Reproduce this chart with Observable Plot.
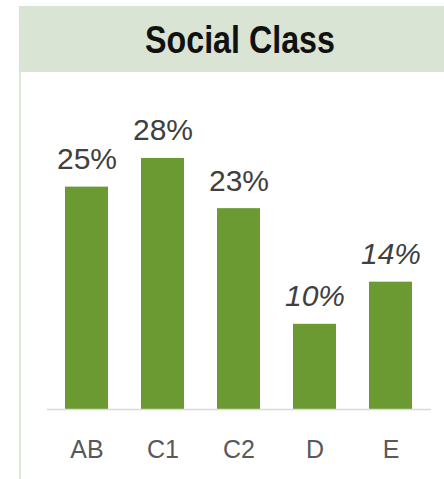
<!DOCTYPE html>
<html><head><meta charset="utf-8">
<script src="https://cdn.jsdelivr.net/npm/d3@7"></script>
<script src="https://cdn.jsdelivr.net/npm/@observablehq/plot@0.6"></script>
<style>
html,body{margin:0;padding:0;background:#fff;}
#wrap{position:relative;width:444px;height:479px;overflow:hidden;background:#fff;}
#chart{position:absolute;left:0;top:0;}
#header{position:absolute;left:19px;top:6px;width:425px;height:66px;background:#d9e4d4;}
#vline{position:absolute;left:19px;top:72px;width:2px;height:407px;background:#dbe8d5;}
#title{position:absolute;left:90px;width:300px;top:20px;line-height:39px;text-align:center;
  font-family:"Liberation Sans",Arial,sans-serif;font-weight:bold;font-size:39px;color:#111;
  transform:scaleX(0.826);transform-origin:150px 50%;}
</style>
</head><body>
<div id="wrap">
  <div id="chart"></div>
  <div id="header"></div>
  <div id="vline"></div>
  <div id="title">Social Class</div>
</div>
<script>
const categories = ["AB", "C1", "C2", "D", "E"];
const values = [24.8, 28, 22.4, 9.5, 14.2];
const labels = ["25%", "28%", "23%", "10%", "14%"];

const data = categories.map((c, i) => ({cat: c, value: values[i], label: labels[i]}));
const font = "'Liberation Sans', Arial, sans-serif";

const chart = Plot.plot({
  width: 444,
  height: 479,
  marginLeft: 47,
  marginRight: 13,
  marginTop: 140,
  marginBottom: 70,
  style: {fontFamily: font, background: "transparent"},
  x: {domain: categories, paddingInner: 0.43, paddingOuter: 0.215, label: null},
  y: {domain: [0, 30], axis: null},
  marks: [
    Plot.barY(data, {x: "cat", y: "value", fill: "#6c9a32"}),
    Plot.ruleY([0], {stroke: "#d9d9d9", strokeWidth: 1.5}),
    Plot.axisX({tickSize: 0, tickPadding: 31, fontSize: 25, color: "#595959", label: null, fontFamily: font}),
    Plot.text(data, {filter: (d, i) => i < 3, x: "cat", y: "value", text: "label", dy: -18, lineAnchor: "bottom",
      fontSize: 30, fill: "#404040", fontFamily: font}),
    Plot.text(data, {filter: (d, i) => i >= 3, x: "cat", y: "value", text: "label", dy: -18, lineAnchor: "bottom",
      fontSize: 30, fill: "#404040", fontFamily: font, fontStyle: "italic"})
  ]
});
document.getElementById("chart").appendChild(chart);
</script>
</body></html>
